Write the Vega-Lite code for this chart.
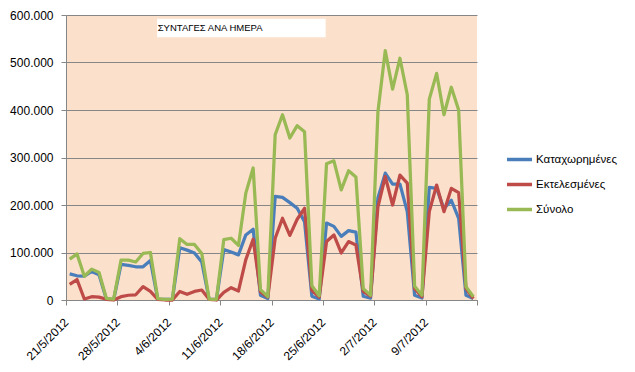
{
  "$schema": "https://vega.github.io/schema/vega-lite/v6.json",
  "width": 411,
  "height": 285,
  "autosize": {"type": "none"},
  "padding": {"left": 66, "top": 15, "right": 158, "bottom": 72},
  "background": "white",
  "config": {
    "locale": {"number": {"decimal": ",", "thousands": ".", "grouping": [3], "currency": ["", "€"]}},
    "view": {"fill": "#FBE1CB", "stroke": null},
    "font": "Liberation Sans"
  },
  "datasets": {
    "days": [
      {"d": "2012-05-21T12:00", "Καταχωρημένες": 55000, "Εκτελεσμένες": 33000, "Σύνολο": 86000},
      {"d": "2012-05-22T12:00", "Καταχωρημένες": 51000, "Εκτελεσμένες": 43000, "Σύνολο": 97000},
      {"d": "2012-05-23T12:00", "Καταχωρημένες": 50000, "Εκτελεσμένες": 2000, "Σύνολο": 50000},
      {"d": "2012-05-24T12:00", "Καταχωρημένες": 60000, "Εκτελεσμένες": 7000, "Σύνολο": 65000},
      {"d": "2012-05-25T12:00", "Καταχωρημένες": 53000, "Εκτελεσμένες": 6000, "Σύνολο": 58000},
      {"d": "2012-05-26T12:00", "Καταχωρημένες": 2000, "Εκτελεσμένες": 1500, "Σύνολο": 3500},
      {"d": "2012-05-27T12:00", "Καταχωρημένες": 1400, "Εκτελεσμένες": 0, "Σύνολο": 2000},
      {"d": "2012-05-28T12:00", "Καταχωρημένες": 75000, "Εκτελεσμένες": 7000, "Σύνολο": 84000},
      {"d": "2012-05-29T12:00", "Καταχωρημένες": 73000, "Εκτελεσμένες": 10000, "Σύνολο": 84000},
      {"d": "2012-05-30T12:00", "Καταχωρημένες": 70000, "Εκτελεσμένες": 11000, "Σύνολο": 80000},
      {"d": "2012-05-31T12:00", "Καταχωρημένες": 70000, "Εκτελεσμένες": 28000, "Σύνολο": 98000},
      {"d": "2012-06-01T12:00", "Καταχωρημένες": 83000, "Εκτελεσμένες": 18000, "Σύνολο": 100000},
      {"d": "2012-06-02T12:00", "Καταχωρημένες": 2000, "Εκτελεσμένες": 1500, "Σύνολο": 3000},
      {"d": "2012-06-03T12:00", "Καταχωρημένες": 1400, "Εκτελεσμένες": 0, "Σύνολο": 1500},
      {"d": "2012-06-04T12:00", "Καταχωρημένες": 1500, "Εκτελεσμένες": 0, "Σύνολο": 2000},
      {"d": "2012-06-05T12:00", "Καταχωρημένες": 110000, "Εκτελεσμένες": 18000, "Σύνολο": 129000},
      {"d": "2012-06-06T12:00", "Καταχωρημένες": 105000, "Εκτελεσμένες": 12000, "Σύνολο": 117000},
      {"d": "2012-06-07T12:00", "Καταχωρημένες": 99000, "Εκτελεσμένες": 18000, "Σύνολο": 117000},
      {"d": "2012-06-08T12:00", "Καταχωρημένες": 80000, "Εκτελεσμένες": 21000, "Σύνολο": 98000},
      {"d": "2012-06-09T12:00", "Καταχωρημένες": 1500, "Εκτελεσμένες": 1500, "Σύνολο": 2000},
      {"d": "2012-06-10T12:00", "Καταχωρημένες": 1500, "Εκτελεσμένες": 0, "Σύνολο": 1500},
      {"d": "2012-06-11T12:00", "Καταχωρημένες": 106000, "Εκτελεσμένες": 16000, "Σύνολο": 127000},
      {"d": "2012-06-12T12:00", "Καταχωρημένες": 101000, "Εκτελεσμένες": 26000, "Σύνολο": 130000},
      {"d": "2012-06-13T12:00", "Καταχωρημένες": 95000, "Εκτελεσμένες": 19000, "Σύνολο": 115000},
      {"d": "2012-06-14T12:00", "Καταχωρημένες": 137000, "Εκτελεσμένες": 85000, "Σύνολο": 225000},
      {"d": "2012-06-15T12:00", "Καταχωρημένες": 149000, "Εκτελεσμένες": 128000, "Σύνολο": 278000},
      {"d": "2012-06-16T12:00", "Καταχωρημένες": 10000, "Εκτελεσμένες": 17000, "Σύνολο": 22000},
      {"d": "2012-06-17T12:00", "Καταχωρημένες": 3000, "Εκτελεσμένες": 6000, "Σύνολο": 7000},
      {"d": "2012-06-18T12:00", "Καταχωρημένες": 218000, "Εκτελεσμένες": 130000, "Σύνολο": 348000},
      {"d": "2012-06-19T12:00", "Καταχωρημένες": 216000, "Εκτελεσμένες": 172000, "Σύνολο": 390000},
      {"d": "2012-06-20T12:00", "Καταχωρημένες": 205000, "Εκτελεσμένες": 136000, "Σύνολο": 341000},
      {"d": "2012-06-21T12:00", "Καταχωρημένες": 193000, "Εκτελεσμένες": 170000, "Σύνολο": 367000},
      {"d": "2012-06-22T12:00", "Καταχωρημένες": 165000, "Εκτελεσμένες": 193000, "Σύνολο": 354000},
      {"d": "2012-06-23T12:00", "Καταχωρημένες": 8000, "Εκτελεσμένες": 20000, "Σύνολο": 30000},
      {"d": "2012-06-24T12:00", "Καταχωρημένες": 2000, "Εκτελεσμένες": 6000, "Σύνολο": 9000},
      {"d": "2012-06-25T12:00", "Καταχωρημένες": 162000, "Εκτελεσμένες": 123000, "Σύνολο": 287000},
      {"d": "2012-06-26T12:00", "Καταχωρημένες": 155000, "Εκτελεσμένες": 137000, "Σύνολο": 293000},
      {"d": "2012-06-27T12:00", "Καταχωρημένες": 134000, "Εκτελεσμένες": 99000, "Σύνολο": 232000},
      {"d": "2012-06-28T12:00", "Καταχωρημένες": 146000, "Εκτελεσμένες": 123000, "Σύνολο": 272000},
      {"d": "2012-06-29T12:00", "Καταχωρημένες": 143000, "Εκτελεσμένες": 116000, "Σύνολο": 259000},
      {"d": "2012-06-30T12:00", "Καταχωρημένες": 8000, "Εκτελεσμένες": 18000, "Σύνολο": 24000},
      {"d": "2012-07-01T12:00", "Καταχωρημένες": 4000, "Εκτελεσμένες": 8000, "Σύνολο": 10000},
      {"d": "2012-07-02T12:00", "Καταχωρημένες": 215000, "Εκτελεσμένες": 196000, "Σύνολο": 396000},
      {"d": "2012-07-03T12:00", "Καταχωρημένες": 267000, "Εκτελεσμένες": 260000, "Σύνολο": 525000},
      {"d": "2012-07-04T12:00", "Καταχωρημένες": 244000, "Εκτελεσμένες": 200000, "Σύνολο": 444000},
      {"d": "2012-07-05T12:00", "Καταχωρημένες": 244000, "Εκτελεσμένες": 263000, "Σύνολο": 509000},
      {"d": "2012-07-06T12:00", "Καταχωρημένες": 186000, "Εκτελεσμένες": 246000, "Σύνολο": 432000},
      {"d": "2012-07-07T12:00", "Καταχωρημένες": 10000, "Εκτελεσμένες": 24000, "Σύνολο": 29000},
      {"d": "2012-07-08T12:00", "Καταχωρημένες": 4000, "Εκτελεσμένες": 7000, "Σύνολο": 10000},
      {"d": "2012-07-09T12:00", "Καταχωρημένες": 237000, "Εκτελεσμένες": 186000, "Σύνολο": 423000},
      {"d": "2012-07-10T12:00", "Καταχωρημένες": 235000, "Εκτελεσμένες": 242000, "Σύνολο": 477000},
      {"d": "2012-07-11T12:00", "Καταχωρημένες": 192000, "Εκτελεσμένες": 186000, "Σύνολο": 390000},
      {"d": "2012-07-12T12:00", "Καταχωρημένες": 210000, "Εκτελεσμένες": 235000, "Σύνολο": 448000},
      {"d": "2012-07-13T12:00", "Καταχωρημένες": 172000, "Εκτελεσμένες": 226000, "Σύνολο": 400000},
      {"d": "2012-07-14T12:00", "Καταχωρημένες": 10000, "Εκτελεσμένες": 24000, "Σύνολο": 28000},
      {"d": "2012-07-15T12:00", "Καταχωρημένες": 3000, "Εκτελεσμένες": 3000, "Σύνολο": 7000}
    ],
    "note": [{"t": "ΣΥΝΤΑΓΕΣ ΑΝΑ ΗΜΕΡΑ"}]
  },
  "layer": [
    {
      "data": {"name": "days"},
      "transform": [{"fold": ["Καταχωρημένες", "Εκτελεσμένες", "Σύνολο"], "as": ["series", "value"]}],
      "mark": {"type": "line", "strokeWidth": 3.25, "strokeJoin": "round"},
      "encoding": {
        "x": {
          "field": "d",
          "type": "temporal",
          "scale": {"domain": [{"year": 2012, "month": 5, "date": 21}, {"year": 2012, "month": 7, "date": 16}]},
          "axis": {
            "title": null,
            "values": [
              {"year": 2012, "month": 5, "date": 21},
              {"year": 2012, "month": 5, "date": 28},
              {"year": 2012, "month": 6, "date": 4},
              {"year": 2012, "month": 6, "date": 11},
              {"year": 2012, "month": 6, "date": 18},
              {"year": 2012, "month": 6, "date": 25},
              {"year": 2012, "month": 7, "date": 2},
              {"year": 2012, "month": 7, "date": 9},
              {"year": 2012, "month": 7, "date": 16}
            ],
            "format": "%-d/%-m/%Y",
            "labelExpr": "datum.index > 0.99 ? '' : datum.label",
            "labelAngle": -45,
            "labelAlign": "right",
            "labelBaseline": "middle",
            "labelOverlap": false,
            "labelFontSize": 12,
            "labelColor": "black",
            "labelPadding": 15,
            "labelDx": 3,
            "grid": false,
            "tickSize": 5,
            "tickColor": "#868686",
            "domainColor": "#868686"
          }
        },
        "y": {
          "field": "value",
          "type": "quantitative",
          "scale": {"domain": [0, 600000], "nice": false},
          "axis": {
            "title": null,
            "values": [0, 100000, 200000, 300000, 400000, 500000, 600000],
            "format": ",d",
            "grid": true,
            "gridColor": "#868686",
            "tickSize": 5,
            "tickColor": "#868686",
            "domainColor": "#868686",
            "labelFontSize": 12,
            "labelColor": "black",
            "labelPadding": 8
          }
        },
        "color": {
          "field": "series",
          "type": "nominal",
          "scale": {"domain": ["Καταχωρημένες", "Εκτελεσμένες", "Σύνολο"], "range": ["#4A7EBB", "#BE4B48", "#98B954"]},
          "legend": {
            "title": null,
            "orient": "none",
            "legendX": 439,
            "legendY": 130,
            "symbolType": "stroke",
            "symbolSize": 625,
            "symbolStrokeWidth": 3.5,
            "labelFontSize": 11.5,
            "labelColor": "black",
            "labelOffset": 2,
            "rowPadding": 3,
            "padding": 0
          }
        }
      }
    },
    {
      "data": {"name": "note"},
      "mark": {"type": "rect", "fill": "white"},
      "encoding": {
        "x": {"datum": {"year": 2012, "month": 6, "date": 2, "hours": 10}, "type": "temporal"},
        "x2": {"datum": {"year": 2012, "month": 6, "date": 25, "hours": 9}},
        "y": {"datum": 592000, "type": "quantitative"},
        "y2": {"datum": 553000}
      }
    },
    {
      "data": {"name": "note"},
      "mark": {"type": "text", "align": "left", "baseline": "middle", "fontSize": 9.5, "color": "black"},
      "encoding": {
        "x": {"datum": {"year": 2012, "month": 6, "date": 2, "hours": 12}, "type": "temporal"},
        "y": {"datum": 572000, "type": "quantitative"},
        "text": {"field": "t"}
      }
    }
  ]
}
